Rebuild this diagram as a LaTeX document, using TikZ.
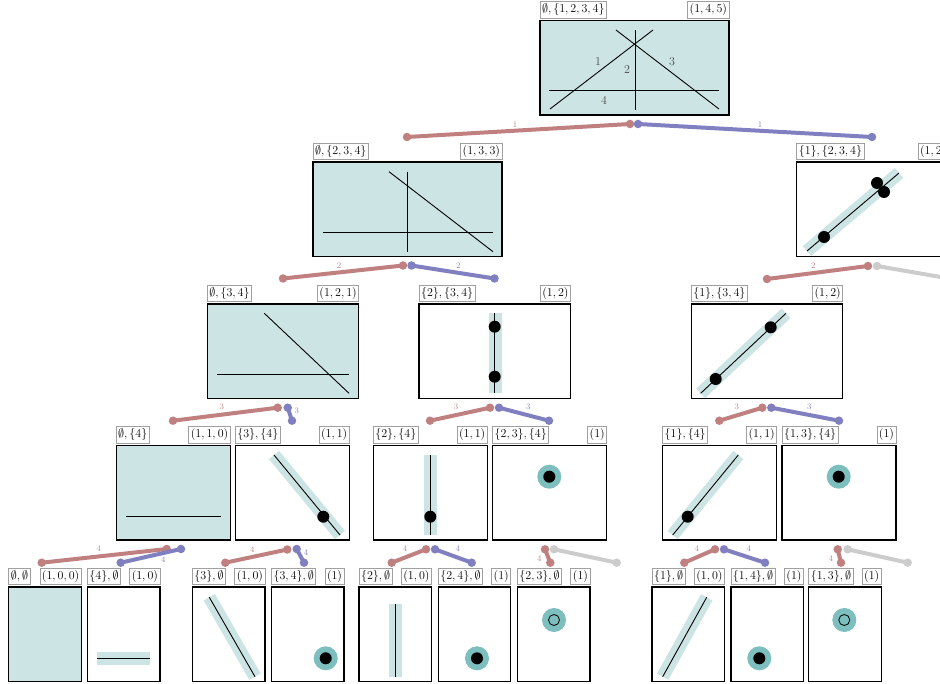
\documentclass[tikz,border=0pt]{standalone}
\usetikzlibrary{calc}

\definecolor{cellfill}{HTML}{CCE5E4}
\definecolor{halofill}{HTML}{7DBEBE}
\definecolor{ered}{HTML}{C08080}
\definecolor{eblue}{HTML}{8080C0}
\definecolor{egray}{HTML}{CCCCCC}
\definecolor{tagline}{HTML}{A0A0A0}

\tikzset{
  cellbox/.style={draw=black, line width=1.2pt, inner sep=0pt, outer sep=0pt, minimum height=94.5pt},
  tag/.style={draw=tagline, line width=0.9pt, fill=white, inner sep=2pt, outer sep=0pt,
    text height=9.2pt, text depth=3.1pt, font=\fontsize{12.5}{14}\selectfont},
  geo/.style={line width=0.9pt, draw=black},
  band/.style={line width=13pt, draw=cellfill},
  ptdot/.style={circle, fill=black, inner sep=0pt, minimum size=12pt},
  halo/.style={circle, fill=halofill, inner sep=0pt, minimum size=24pt},
  opendot/.style={circle, draw=black, line width=0.8pt, inner sep=0pt, minimum size=11pt},
  edot/.style={circle, inner sep=0pt, minimum size=8.5pt},
  elab/.style={inner sep=0pt, font=\fontsize{8.5}{10}\selectfont},
  lnum/.style={inner sep=0pt, text=black!72, font=\fontsize{12}{14}\selectfont},
}

% cell: name, centre x, centre y, width, fill, left tag, right tag
\newcommand\tcell[7]{%
  \node[cellbox, fill=#5, minimum width=#4pt] (#1) at (#2,#3) {};
  \node[tag, anchor=south west] (#1-l) at ([yshift=2.5pt]#1.north west) {$#6$};
  \node[tag, anchor=south east] (#1-r) at ([yshift=2.5pt]#1.north east) {$#7$};}

% tree edge: colour, parent dot name, its position, child end name, its position
\newcommand\tedge[5]{%
  \node[edot, fill=#1] (#2) at (#3) {};
  \node[edot, fill=#1] (#4) at (#5) {};
  \draw[#1, line width=4pt] (#2.center) -- (#4.center);}

\begin{document}
\begin{tikzpicture}[x=1pt, y=-1pt]
\useasboundingbox (0,0) rectangle (940,684);
\clip (0,0) rectangle (940,684);

% ---------------- cells ----------------
\tcell{c0}{634.5}{67.75}{189}{cellfill}{\emptyset,\{1,2,3,4\}}{(1,4,5)}
\tcell{c1}{407.5}{209.25}{189}{cellfill}{\emptyset,\{2,3,4\}}{(1,3,3)}
\tcell{c2}{872.5}{209.25}{151.5}{white}{\{1\},\{2,3,4\}}{(1,2)}
\tcell{c3}{283}{351.25}{151.5}{cellfill}{\emptyset,\{3,4\}}{(1,2,1)}
\tcell{c4}{494.8}{351.25}{151.5}{white}{\{2\},\{3,4\}}{(1,2)}
\tcell{c5}{767}{351.25}{151.5}{white}{\{1\},\{3,4\}}{(1,2)}
\tcell{c6}{173.2}{492.75}{114}{cellfill}{\emptyset,\{4\}}{(1,1,0)}
\tcell{c7}{292.3}{492.75}{114}{white}{\{3\},\{4\}}{(1,1)}
\tcell{c8}{430.3}{492.75}{114}{white}{\{2\},\{4\}}{(1,1)}
\tcell{c9}{549.7}{492.75}{114}{white}{\{2,3\},\{4\}}{(1)}
\tcell{c10}{719.7}{492.75}{114}{white}{\{1\},\{4\}}{(1,1)}
\tcell{c11}{839}{492.75}{114}{white}{\{1,3\},\{4\}}{(1)}
\tcell{c12}{45}{634.25}{72.5}{cellfill}{\emptyset,\emptyset}{(1,0,0)}
\tcell{c13}{123.7}{634.25}{72.5}{white}{\{4\},\emptyset}{(1,0)}
\tcell{c14}{228.7}{634.25}{72.5}{white}{\{3\},\emptyset}{(1,0)}
\tcell{c15}{307.8}{634.25}{72.5}{white}{\{3,4\},\emptyset}{(1)}
\tcell{c16}{395.3}{634.25}{72.5}{white}{\{2\},\emptyset}{(1,0)}
\tcell{c17}{474.5}{634.25}{72.5}{white}{\{2,4\},\emptyset}{(1)}
\tcell{c18}{553.7}{634.25}{72.5}{white}{\{2,3\},\emptyset}{(1)}
\tcell{c19}{688.3}{634.25}{72.5}{white}{\{1\},\emptyset}{(1,0)}
\tcell{c20}{767.2}{634.25}{72.5}{white}{\{1,4\},\emptyset}{(1)}
\tcell{c21}{845}{634.25}{72.5}{white}{\{1,3\},\emptyset}{(1)}

% ---------------- cell contents ----------------
% full arrangement
\draw[geo] (550,109) -- (653,30);
\draw[geo] (635,30) -- (635,110);
\draw[geo] (616,30) -- (719,109);
\draw[geo] (549,90.7) -- (719,90.7);
\node[lnum] (n1) at (598,62) {1};
\node[lnum] (n2) at (627,70) {2};
\node[lnum] (n3) at (672,62) {3};
\node[lnum] (n4) at (604,100) {4};
% lines 2,3,4
\draw[geo] (407.3,171.7) -- (407.3,251.7);
\draw[geo] (322.7,232.7) -- (492.7,232.7);
\draw[geo] (389,171.7) -- (493,251.7);
% restriction to line 1
\draw[band] (807,251) -- (899,173);
\draw[geo] (807,251) -- (899,173);
\node[ptdot] (q1) at (824,237) {};
\node[ptdot] (q2) at (877,183) {};
\node[ptdot] (q3) at (884,192) {};
% lines 3,4
\draw[geo] (264.3,313.3) -- (349,393.3);
\draw[geo] (217.3,374.7) -- (349,374.7);
% restriction to line 2
\draw[band] (495,313.3) -- (495,393.3);
\draw[geo] (494.7,313.3) -- (494.7,393.3);
\node[ptdot] (q4) at (494.7,326.7) {};
\node[ptdot] (q5) at (494.7,376.7) {};
% restriction to line 1, lines 3,4
\draw[band] (700.7,393.3) -- (786,313.3);
\draw[geo] (700.7,393.3) -- (786,313.3);
\node[ptdot] (q6) at (715.7,379) {};
\node[ptdot] (q7) at (770.7,327.3) {};
% line 4 only
\draw[geo] (126.3,516.3) -- (220.7,516.3);
% restriction to line 3
\draw[band] (274,455) -- (340,535);
\draw[geo] (274,455) -- (340,535);
\node[ptdot] (q8) at (323.3,516.7) {};
% restriction to line 2, line 4
\draw[band] (430.7,455) -- (430.7,535);
\draw[geo] (430.3,455) -- (430.3,535);
\node[ptdot] (q9) at (430.3,516.7) {};
% point 2,3
\node[halo] (h1) at (549.3,476.7) {};
\node[ptdot] (q10) at (549.3,476.7) {};
% restriction to line 1, line 4
\draw[band] (672.7,535) -- (738.3,455);
\draw[geo] (672.7,535) -- (738.3,455);
\node[ptdot] (q11) at (687.7,516.7) {};
% point 1,3
\node[halo] (h2) at (838.7,476.7) {};
\node[ptdot] (q12) at (838.7,476.7) {};
% bottom row
\draw[band] (97.3,658.3) -- (150,658.3);
\draw[geo] (97.3,658.3) -- (150,658.3);
\draw[band] (209.3,597.3) -- (255,676.7);
\draw[geo] (209.3,597.3) -- (255,676.7);
\node[halo] (h3) at (325.7,658.3) {};
\node[ptdot] (q13) at (325.7,658.3) {};
\draw[band] (395.5,604) -- (395.5,677.3);
\draw[geo] (395.3,604) -- (395.3,677.3);
\node[halo] (h4) at (477,658.3) {};
\node[ptdot] (q14) at (477,658.3) {};
\node[halo] (h5) at (554,620) {};
\node[opendot] (o1) at (554,620) {};
\draw[band] (662.7,676.7) -- (706.7,597.3);
\draw[geo] (662.7,676.7) -- (706.7,597.3);
\node[halo] (h6) at (759.3,658.3) {};
\node[ptdot] (q15) at (759.3,658.3) {};
\node[halo] (h7) at (844.3,620) {};
\node[opendot] (o2) at (844.3,620) {};

% ---------------- tree edges ----------------
\tedge{ered}{c0-a}{630,124}{c1-t}{407,137}
\tedge{eblue}{c0-b}{638,124}{c2-t}{872,137}
\tedge{ered}{c1-a}{403,265.5}{c3-t}{283,278.5}
\tedge{eblue}{c1-b}{411.5,265.5}{c4-t}{494.5,278.5}
\tedge{ered}{c2-a}{868,266}{c5-t}{767,279}
\tedge{egray}{c2-b}{877,266}{c2-x}{955,279.5}
\tedge{ered}{c3-a}{277.7,407.7}{c6-t}{173,420.7}
\tedge{eblue}{c3-b}{287.7,407.7}{c7-t}{292,420.7}
\tedge{ered}{c4-a}{490,407.7}{c8-t}{430,420.7}
\tedge{eblue}{c4-b}{499,407.7}{c9-t}{549,420.7}
\tedge{ered}{c5-a}{762.3,407.7}{c10-t}{719.3,420.7}
\tedge{eblue}{c5-b}{771.3,407.7}{c11-t}{839,420.7}
\tedge{ered}{c6-a}{166.7,549}{c12-t}{41.7,562.7}
\tedge{eblue}{c6-b}{181,549}{c13-t}{120.7,562.7}
\tedge{ered}{c7-a}{287.3,549.5}{c14-t}{225.3,562.7}
\tedge{eblue}{c7-b}{296.7,549}{c15-t}{304,562.7}
\tedge{ered}{c8-a}{426,549.3}{c16-t}{391.7,562.7}
\tedge{eblue}{c8-b}{435,549.3}{c17-t}{471.7,562.7}
\tedge{ered}{c9-a}{545,549.3}{c18-t}{550.3,562.7}
\tedge{egray}{c9-b}{554,549.3}{c9-x}{616.7,562.7}
\tedge{ered}{c10-a}{715,549.3}{c19-t}{684.3,562.7}
\tedge{eblue}{c10-b}{724,549.3}{c20-t}{765,562.7}
\tedge{ered}{c11-a}{837.7,549.3}{c21-t}{841,562.7}
\tedge{egray}{c11-b}{847.7,549.3}{c11-x}{907.7,562.7}

% edge labels
\node[elab, text=ered] (k0a) at (515,125) {1};
\node[elab, text=eblue] (k0b) at (760,125) {1};
\node[elab, text=ered] (k1a) at (339,266) {2};
\node[elab, text=eblue] (k1b) at (458.3,266) {2};
\node[elab, text=ered] (k2a) at (813.3,266) {2};
\node[elab, text=ered] (k3a) at (221.7,406.7) {3};
\node[elab, text=eblue] (k3b) at (296.7,411) {3};
\node[elab, text=ered] (k4a) at (456,406.7) {3};
\node[elab, text=eblue] (k4b) at (528.3,406.7) {3};
\node[elab, text=ered] (k5a) at (736.7,406.7) {3};
\node[elab, text=eblue] (k5b) at (809.3,406.7) {3};
\node[elab, text=ered] (k6a) at (98.7,549) {4};
\node[elab, text=eblue] (k6b) at (163.3,560) {4};
\node[elab, text=ered] (k7a) at (252.3,550) {4};
\node[elab, text=eblue] (k7b) at (306,552.3) {4};
\node[elab, text=ered] (k8a) at (405,549) {4};
\node[elab, text=eblue] (k8b) at (457.7,549) {4};
\node[elab, text=ered] (k9a) at (539.3,558.3) {4};
\node[elab, text=ered] (k10a) at (696.7,549) {4};
\node[elab, text=eblue] (k10b) at (748.7,549) {4};
\node[elab, text=ered] (k11a) at (831,558.3) {4};
\end{tikzpicture}
\end{document}
